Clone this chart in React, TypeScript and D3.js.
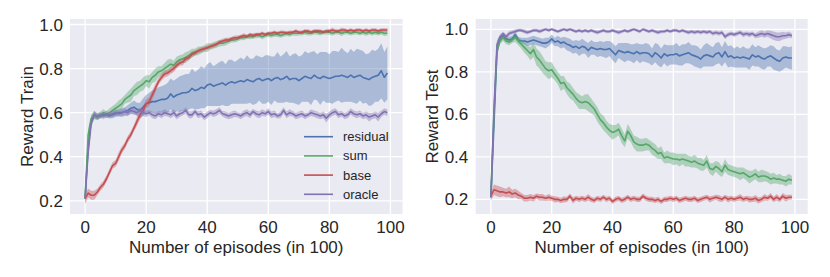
import React from "react";
import * as d3 from "d3";

const episodes: number[] = Array.from({ length: 100 }, (_, i) => i);
const seriesNames = ["residual", "sum", "base", "oracle"];
const seriesColors = ["#4C72B0", "#55A868", "#C44E52", "#8172B2"];
const xTicks = [0, 20, 40, 60, 80, 100];
const yTicks = [0.2, 0.4, 0.6, 0.8, 1.0];
const xLabel = "Number of episodes (in 100)";
const yLabels = ["Reward Train", "Reward Test"];

// ---------- Train panel ----------
const trainResidual = [
  0.21,0.45,0.57,0.59,0.58,0.585,0.59,0.59,0.585,0.59,
  0.595,0.60,0.60,0.605,0.61,0.62,0.625,0.615,0.61,0.625,
  0.64,0.645,0.65,0.65,0.655,0.66,0.66,0.665,0.685,0.67,
  0.68,0.685,0.69,0.69,0.695,0.71,0.70,0.705,0.715,0.71,
  0.725,0.73,0.72,0.725,0.73,0.735,0.725,0.735,0.74,0.735,
  0.74,0.745,0.74,0.75,0.745,0.74,0.75,0.755,0.745,0.75,
  0.755,0.745,0.755,0.76,0.75,0.755,0.765,0.75,0.755,0.755,
  0.745,0.755,0.765,0.76,0.755,0.77,0.76,0.755,0.765,0.76,
  0.755,0.76,0.765,0.765,0.77,0.765,0.76,0.77,0.76,0.765,
  0.77,0.76,0.755,0.75,0.76,0.765,0.77,0.79,0.76,0.78,
];
const trainResidualCi = [
  0.02,0.02,0.015,0.015,0.012,0.012,0.012,0.012,0.012,0.015,
  0.015,0.015,0.02,0.02,0.025,0.025,0.03,0.03,0.035,0.04,
  0.04,0.045,0.05,0.055,0.06,0.06,0.065,0.07,0.07,0.075,
  0.075,0.08,0.08,0.085,0.08,0.09,0.085,0.09,0.095,0.09,
  0.095,0.10,0.09,0.095,0.10,0.10,0.095,0.105,0.10,0.095,
  0.10,0.105,0.10,0.11,0.10,0.105,0.11,0.10,0.105,0.11,
  0.105,0.11,0.10,0.115,0.105,0.11,0.115,0.105,0.11,0.115,
  0.11,0.105,0.115,0.11,0.12,0.11,0.105,0.12,0.11,0.115,
  0.11,0.12,0.115,0.11,0.125,0.115,0.11,0.12,0.115,0.125,
  0.115,0.12,0.11,0.12,0.125,0.115,0.12,0.125,0.115,0.12,
];
const trainSum = [
  0.21,0.50,0.57,0.59,0.58,0.59,0.60,0.59,0.60,0.61,
  0.62,0.63,0.64,0.66,0.67,0.68,0.70,0.71,0.72,0.73,
  0.745,0.74,0.76,0.77,0.785,0.79,0.80,0.81,0.82,0.815,
  0.83,0.84,0.845,0.85,0.86,0.87,0.875,0.88,0.885,0.89,
  0.895,0.90,0.905,0.91,0.915,0.915,0.92,0.925,0.93,0.93,
  0.935,0.94,0.94,0.945,0.945,0.945,0.95,0.95,0.945,0.95,
  0.955,0.95,0.955,0.955,0.95,0.955,0.96,0.955,0.96,0.96,
  0.96,0.96,0.965,0.96,0.96,0.965,0.965,0.96,0.965,0.965,
  0.965,0.96,0.965,0.965,0.96,0.965,0.965,0.96,0.965,0.965,
  0.96,0.965,0.96,0.965,0.96,0.965,0.96,0.965,0.96,0.96,
];
const trainSumCi = [
  0.02,0.03,0.02,0.02,0.015,0.015,0.015,0.015,0.02,0.02,
  0.02,0.025,0.025,0.02,0.025,0.03,0.025,0.03,0.025,0.03,
  0.025,0.03,0.025,0.03,0.025,0.02,0.025,0.03,0.025,0.02,
  0.025,0.02,0.02,0.025,0.02,0.02,0.015,0.02,0.015,0.015,
  0.02,0.015,0.015,0.015,0.015,0.012,0.015,0.012,0.012,0.012,
  0.012,0.01,0.012,0.01,0.012,0.01,0.012,0.01,0.012,0.01,
  0.012,0.01,0.01,0.012,0.01,0.01,0.012,0.01,0.01,0.012,
  0.01,0.01,0.012,0.01,0.01,0.01,0.012,0.01,0.01,0.01,
  0.012,0.01,0.01,0.01,0.012,0.01,0.01,0.01,0.012,0.01,
  0.01,0.01,0.012,0.01,0.01,0.012,0.01,0.01,0.012,0.01,
];
const trainBase = [
  0.21,0.235,0.225,0.225,0.24,0.26,0.275,0.30,0.33,0.36,
  0.37,0.40,0.43,0.45,0.48,0.50,0.53,0.56,0.59,0.61,
  0.64,0.65,0.68,0.71,0.74,0.76,0.775,0.78,0.79,0.80,
  0.815,0.825,0.83,0.845,0.85,0.865,0.87,0.88,0.885,0.89,
  0.895,0.90,0.905,0.91,0.92,0.925,0.93,0.93,0.935,0.94,
  0.94,0.945,0.95,0.945,0.955,0.95,0.955,0.955,0.96,0.955,
  0.96,0.96,0.965,0.96,0.965,0.965,0.96,0.965,0.965,0.97,
  0.965,0.965,0.97,0.97,0.965,0.97,0.97,0.97,0.965,0.97,
  0.97,0.975,0.97,0.97,0.975,0.975,0.97,0.975,0.97,0.975,
  0.975,0.97,0.975,0.97,0.975,0.975,0.97,0.975,0.975,0.975,
];
const trainBaseCi = [
  0.025,0.02,0.02,0.02,0.015,0.015,0.015,0.015,0.015,0.015,
  0.015,0.02,0.015,0.015,0.015,0.015,0.015,0.02,0.02,0.02,
  0.02,0.02,0.02,0.02,0.015,0.015,0.015,0.015,0.015,0.015,
  0.015,0.012,0.015,0.012,0.012,0.012,0.012,0.01,0.012,0.01,
  0.01,0.01,0.01,0.01,0.01,0.01,0.01,0.01,0.01,0.01,
  0.01,0.008,0.01,0.008,0.008,0.01,0.008,0.008,0.008,0.008,
  0.008,0.008,0.008,0.008,0.008,0.008,0.008,0.008,0.008,0.008,
  0.008,0.008,0.008,0.008,0.008,0.008,0.008,0.008,0.008,0.008,
  0.008,0.01,0.008,0.008,0.01,0.008,0.008,0.008,0.008,0.008,
  0.008,0.008,0.008,0.008,0.008,0.008,0.008,0.008,0.008,0.008,
];
const trainOracle = [
  0.21,0.42,0.55,0.59,0.585,0.59,0.585,0.595,0.59,0.595,
  0.60,0.595,0.60,0.605,0.60,0.61,0.605,0.60,0.61,0.60,
  0.595,0.60,0.59,0.585,0.595,0.59,0.60,0.595,0.59,0.60,
  0.585,0.595,0.60,0.61,0.59,0.59,0.605,0.59,0.595,0.58,
  0.59,0.60,0.595,0.60,0.61,0.595,0.59,0.585,0.59,0.595,
  0.59,0.585,0.595,0.60,0.59,0.605,0.595,0.59,0.60,0.595,
  0.605,0.59,0.595,0.585,0.59,0.61,0.59,0.60,0.595,0.585,
  0.59,0.595,0.585,0.59,0.60,0.595,0.59,0.585,0.59,0.575,
  0.59,0.60,0.605,0.59,0.595,0.585,0.59,0.605,0.595,0.59,
  0.595,0.585,0.59,0.58,0.585,0.59,0.58,0.595,0.605,0.60,
];
const trainOracleCi = [
  0.025,0.03,0.02,0.015,0.015,0.012,0.015,0.015,0.012,0.015,
  0.015,0.012,0.015,0.015,0.012,0.015,0.015,0.012,0.015,0.015,
  0.015,0.012,0.015,0.015,0.012,0.015,0.015,0.012,0.015,0.015,
  0.015,0.015,0.012,0.015,0.015,0.015,0.012,0.015,0.015,0.015,
  0.015,0.012,0.015,0.015,0.015,0.012,0.015,0.015,0.015,0.015,
  0.012,0.015,0.015,0.015,0.015,0.012,0.015,0.015,0.015,0.012,
  0.015,0.015,0.015,0.012,0.015,0.015,0.015,0.015,0.012,0.015,
  0.015,0.015,0.015,0.012,0.015,0.015,0.015,0.015,0.015,0.02,
  0.015,0.015,0.015,0.015,0.012,0.015,0.015,0.015,0.015,0.015,
  0.015,0.015,0.015,0.02,0.015,0.015,0.02,0.015,0.015,0.015,
];

// ---------- Test panel ----------
const testResidual = [
  0.21,0.55,0.90,0.955,0.97,0.955,0.95,0.955,0.975,0.95,
  0.945,0.945,0.94,0.945,0.95,0.945,0.94,0.935,0.935,0.94,
  0.955,0.94,0.945,0.935,0.94,0.93,0.925,0.915,0.92,0.91,
  0.92,0.915,0.90,0.915,0.91,0.905,0.91,0.905,0.905,0.91,
  0.895,0.88,0.90,0.895,0.89,0.895,0.89,0.885,0.895,0.885,
  0.89,0.89,0.885,0.87,0.89,0.88,0.865,0.885,0.875,0.88,
  0.88,0.885,0.875,0.88,0.885,0.89,0.88,0.875,0.87,0.86,
  0.875,0.88,0.875,0.87,0.885,0.89,0.87,0.895,0.87,0.875,
  0.865,0.87,0.865,0.87,0.865,0.86,0.88,0.87,0.875,0.865,
  0.86,0.87,0.875,0.865,0.855,0.85,0.865,0.87,0.865,0.865,
];
const testResidualCi = [
  0.02,0.03,0.03,0.015,0.012,0.015,0.015,0.015,0.015,0.015,
  0.015,0.015,0.02,0.02,0.02,0.02,0.02,0.02,0.025,0.02,
  0.02,0.02,0.025,0.025,0.025,0.03,0.03,0.03,0.03,0.035,
  0.035,0.03,0.035,0.035,0.03,0.035,0.035,0.035,0.04,0.035,
  0.04,0.04,0.035,0.04,0.045,0.04,0.04,0.045,0.04,0.045,
  0.04,0.045,0.045,0.04,0.045,0.05,0.045,0.045,0.05,0.045,
  0.045,0.05,0.045,0.05,0.045,0.05,0.045,0.05,0.05,0.045,
  0.05,0.055,0.05,0.045,0.05,0.05,0.045,0.05,0.05,0.05,
  0.045,0.05,0.045,0.05,0.045,0.05,0.05,0.045,0.05,0.05,
  0.05,0.045,0.05,0.055,0.05,0.05,0.055,0.05,0.05,0.055,
];
const testSum = [
  0.21,0.60,0.90,0.945,0.96,0.945,0.94,0.95,0.96,0.945,
  0.93,0.915,0.90,0.885,0.905,0.87,0.855,0.835,0.815,0.805,
  0.81,0.79,0.77,0.745,0.75,0.725,0.71,0.695,0.675,0.66,
  0.655,0.66,0.655,0.64,0.625,0.60,0.575,0.56,0.54,0.525,
  0.515,0.52,0.53,0.50,0.475,0.52,0.50,0.47,0.46,0.455,
  0.455,0.46,0.455,0.44,0.43,0.415,0.42,0.395,0.40,0.395,
  0.39,0.39,0.385,0.39,0.385,0.38,0.375,0.38,0.37,0.365,
  0.36,0.38,0.345,0.34,0.355,0.345,0.33,0.36,0.34,0.335,
  0.33,0.325,0.32,0.325,0.315,0.305,0.31,0.32,0.305,0.31,
  0.31,0.305,0.295,0.30,0.295,0.295,0.29,0.285,0.295,0.29,
];
const testSumCi = [
  0.02,0.03,0.03,0.015,0.015,0.015,0.015,0.015,0.02,0.02,
  0.02,0.025,0.025,0.03,0.035,0.04,0.04,0.04,0.035,0.04,
  0.035,0.03,0.03,0.035,0.03,0.03,0.035,0.03,0.03,0.035,
  0.03,0.035,0.04,0.035,0.03,0.035,0.03,0.035,0.03,0.03,
  0.035,0.03,0.03,0.035,0.03,0.035,0.03,0.03,0.035,0.03,
  0.03,0.03,0.025,0.03,0.03,0.025,0.03,0.025,0.03,0.025,
  0.03,0.025,0.03,0.025,0.03,0.025,0.025,0.03,0.025,0.03,
  0.025,0.03,0.025,0.03,0.025,0.03,0.025,0.03,0.025,0.025,
  0.025,0.025,0.03,0.025,0.025,0.03,0.025,0.025,0.025,0.03,
  0.025,0.025,0.025,0.025,0.02,0.025,0.02,0.025,0.025,0.02,
];
const testBase = [
  0.215,0.245,0.24,0.235,0.235,0.23,0.235,0.225,0.23,0.22,
  0.215,0.205,0.205,0.21,0.205,0.215,0.21,0.21,0.205,0.21,
  0.205,0.20,0.20,0.195,0.20,0.20,0.215,0.195,0.205,0.20,
  0.205,0.20,0.21,0.20,0.195,0.205,0.20,0.21,0.20,0.205,
  0.19,0.20,0.205,0.195,0.20,0.21,0.20,0.205,0.20,0.20,
  0.215,0.205,0.20,0.20,0.195,0.20,0.19,0.20,0.20,0.205,
  0.20,0.205,0.195,0.20,0.205,0.20,0.20,0.205,0.195,0.20,
  0.205,0.21,0.20,0.205,0.21,0.205,0.20,0.21,0.20,0.205,
  0.20,0.205,0.21,0.20,0.205,0.20,0.20,0.205,0.195,0.20,
  0.21,0.205,0.215,0.20,0.21,0.20,0.215,0.205,0.21,0.21,
];
const testBaseCi = [
  0.02,0.025,0.025,0.025,0.02,0.02,0.025,0.02,0.02,0.02,
  0.015,0.015,0.015,0.015,0.015,0.012,0.015,0.015,0.012,0.015,
  0.012,0.015,0.012,0.012,0.015,0.012,0.012,0.015,0.012,0.012,
  0.012,0.012,0.015,0.012,0.012,0.012,0.012,0.012,0.012,0.012,
  0.012,0.012,0.012,0.012,0.012,0.012,0.012,0.012,0.012,0.012,
  0.012,0.012,0.012,0.012,0.012,0.012,0.012,0.012,0.012,0.012,
  0.012,0.012,0.012,0.012,0.012,0.012,0.012,0.012,0.012,0.012,
  0.012,0.012,0.015,0.012,0.012,0.015,0.012,0.012,0.015,0.012,
  0.012,0.012,0.015,0.012,0.012,0.015,0.012,0.015,0.015,0.012,
  0.015,0.012,0.015,0.012,0.015,0.012,0.015,0.015,0.012,0.012,
];
const testOracle = [
  0.21,0.62,0.93,0.965,0.98,0.965,0.98,0.985,0.99,0.995,
  0.995,0.99,0.985,0.99,0.995,0.995,0.99,0.995,1.0,0.995,
  1.0,0.995,0.99,0.995,1.0,0.995,1.0,0.995,0.99,0.995,
  0.99,0.995,0.99,0.995,0.99,0.985,0.99,0.995,0.99,0.99,
  0.995,0.99,0.985,0.99,0.995,0.99,0.995,1.0,0.995,0.99,
  1.0,0.995,0.99,0.995,0.99,0.985,0.99,0.99,0.995,0.99,
  0.995,0.995,0.99,0.995,0.99,0.985,0.99,0.985,0.99,0.985,
  0.99,0.985,0.99,0.98,0.985,0.98,0.985,0.965,0.975,0.98,
  0.975,0.98,0.985,0.975,0.98,0.975,0.98,0.97,0.975,0.98,
  0.975,0.98,0.975,0.97,0.965,0.965,0.97,0.97,0.975,0.97,
];
const testOracleCi = [
  0.02,0.03,0.02,0.012,0.01,0.012,0.012,0.01,0.01,0.008,
  0.008,0.01,0.01,0.008,0.008,0.008,0.01,0.008,0.006,0.008,
  0.006,0.008,0.008,0.008,0.006,0.008,0.006,0.008,0.008,0.008,
  0.008,0.008,0.008,0.008,0.008,0.01,0.008,0.008,0.008,0.008,
  0.008,0.008,0.01,0.008,0.008,0.008,0.008,0.006,0.008,0.008,
  0.006,0.008,0.008,0.008,0.008,0.01,0.008,0.008,0.008,0.008,
  0.008,0.008,0.008,0.008,0.008,0.01,0.008,0.01,0.008,0.01,
  0.008,0.01,0.008,0.01,0.01,0.01,0.01,0.012,0.01,0.01,
  0.01,0.01,0.01,0.012,0.01,0.012,0.01,0.012,0.015,0.015,
  0.015,0.015,0.018,0.02,0.02,0.02,0.018,0.015,0.015,0.012,
];

interface Series {
  mean: number[];
  ci: number[];
}

const trainSeries: Series[] = [
  { mean: trainResidual, ci: trainResidualCi },
  { mean: trainSum, ci: trainSumCi },
  { mean: trainBase, ci: trainBaseCi },
  { mean: trainOracle, ci: trainOracleCi },
];
const testSeries: Series[] = [
  { mean: testResidual, ci: testResidualCi },
  { mean: testSum, ci: testSumCi },
  { mean: testBase, ci: testBaseCi },
  { mean: testOracle, ci: testOracleCi },
];

const FONT = "'Liberation Sans', Arial, sans-serif";
const TEXT = "#262626";
const BG = "#EAEAF2";

interface PanelProps {
  series: Series[];
  left: number;
  right: number;
  top: number;
  bottom: number;
  xDomain: [number, number];
  yDomain: [number, number];
  yLabel: string;
  yLabelX: number;
  yTickX: number;
  legend?: boolean;
}

function Panel(p: PanelProps) {
  const x = d3.scaleLinear().domain(p.xDomain).range([p.left, p.right]);
  const y = d3.scaleLinear().domain(p.yDomain).range([p.bottom, p.top]);
  const clipId = `clip-${p.left}`;
  const area = (s: Series) =>
    d3
      .area<number>()
      .x((i) => x(episodes[i]))
      .y0((i) => y(s.mean[i] - s.ci[i]))
      .y1((i) => y(s.mean[i] + s.ci[i]))(episodes.map((_, i) => i)) || "";
  const line = (s: Series) =>
    d3
      .line<number>()
      .x((i) => x(episodes[i]))
      .y((i) => y(s.mean[i]))(episodes.map((_, i) => i)) || "";
  const midY = (p.top + p.bottom) / 2;
  const legX = 304;
  const legY = [136.7, 155.9, 175.1, 194.3];
  return (
    <g>
      <defs>
        <clipPath id={clipId}>
          <rect x={p.left} y={p.top} width={p.right - p.left} height={p.bottom - p.top} />
        </clipPath>
      </defs>
      <rect x={p.left} y={p.top} width={p.right - p.left} height={p.bottom - p.top} fill={BG} />
      {xTicks.map((t) => (
        <line key={"gx" + t} x1={x(t)} x2={x(t)} y1={p.top} y2={p.bottom} stroke="#fff" strokeWidth={1.3} />
      ))}
      {yTicks.map((t) => (
        <line key={"gy" + t} x1={p.left} x2={p.right} y1={y(t)} y2={y(t)} stroke="#fff" strokeWidth={1.3} />
      ))}
      <g clipPath={`url(#${clipId})`}>
        {p.series.map((s, k) => (
          <g key={k}>
            <path d={area(s)} fill={seriesColors[k]} fillOpacity={0.4} stroke="none" />
            <path d={line(s)} fill="none" stroke={seriesColors[k]} strokeWidth={1.6} strokeLinejoin="round" />
          </g>
        ))}
      </g>
      {xTicks.map((t) => (
        <text key={"tx" + t} x={x(t)} y={233.3} textAnchor="middle" fontSize={17} fontFamily={FONT} fill={TEXT}>
          {t}
        </text>
      ))}
      {yTicks.map((t) => (
        <text key={"ty" + t} x={p.yTickX} y={y(t)} dy="0.36em" textAnchor="end" fontSize={17} fontFamily={FONT} fill={TEXT}>
          {d3.format(".1f")(t)}
        </text>
      ))}
      <text x={(p.left + p.right) / 2} y={253.3} textAnchor="middle" fontSize={17} fontFamily={FONT} fill={TEXT}>
        {xLabel}
      </text>
      <text
        transform={`translate(${p.yLabelX},${midY}) rotate(-90)`}
        textAnchor="middle"
        fontSize={17}
        fontFamily={FONT}
        fill={TEXT}
      >
        {p.yLabel}
      </text>
      {p.legend &&
        seriesNames.map((n, k) => (
          <g key={n}>
            <line x1={legX} x2={legX + 29} y1={legY[k]} y2={legY[k]} stroke={seriesColors[k]} strokeWidth={1.6} />
            <text x={legX + 39} y={legY[k]} dy="0.35em" fontSize={13} fontFamily={FONT} fill={TEXT}>
              {n}
            </text>
          </g>
        ))}
    </g>
  );
}

export default function App() {
  return (
    <svg
      width={830}
      height={277}
      style={{ position: "absolute", left: 0, top: 0, background: "#fff" }}
    >
      <Panel
        series={trainSeries}
        left={70}
        right={402.5}
        top={19}
        bottom={214}
        xDomain={[-4.95, 103.95]}
        yDomain={[0.14, 1.025]}
        yLabel={yLabels[0]}
        yLabelX={32.5}
        yTickX={63}
        legend
      />
      <Panel
        series={testSeries}
        left={475.7}
        right={807.7}
        top={19}
        bottom={214}
        xDomain={[-5.0, 104.2]}
        yDomain={[0.131, 1.0485]}
        yLabel={yLabels[1]}
        yLabelX={438}
        yTickX={468.3}
      />
    </svg>
  );
}
